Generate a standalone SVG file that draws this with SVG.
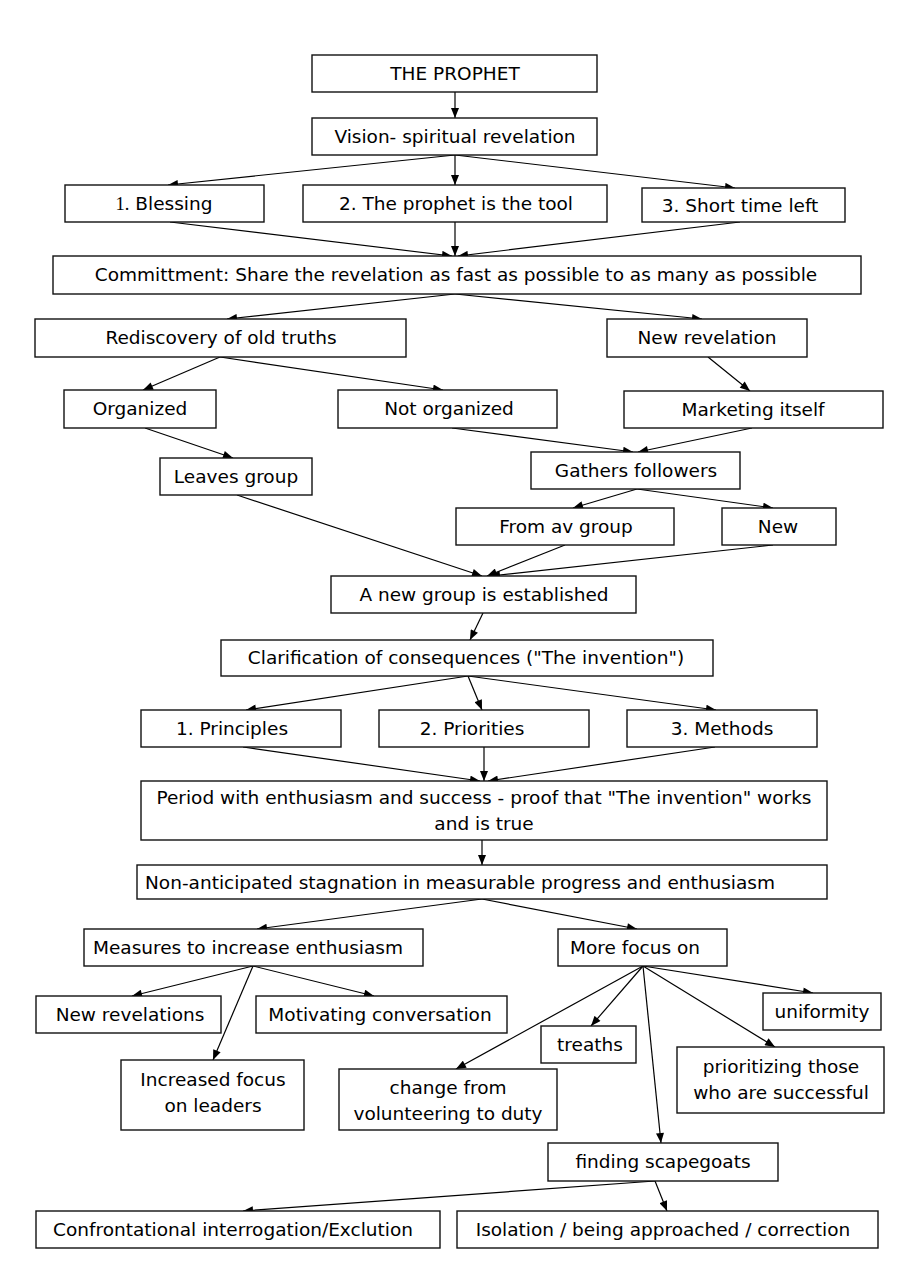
<svg xmlns="http://www.w3.org/2000/svg" width="915" height="1280" viewBox="0 0 915 1280">
<style>
rect{fill:#fff;stroke:#111;stroke-width:1.4}
text{font-family:"DejaVu Sans",Verdana,sans-serif;font-size:18.5px;fill:#000;text-anchor:middle}
.s{font-family:"Liberation Serif","Times New Roman",serif}
#connectors line{stroke:#000;stroke-width:1.2;marker-end:url(#ah)}
</style>
<defs>
<marker id="ah" viewBox="0 0 10 8" refX="10" refY="4" markerWidth="11" markerHeight="8" orient="auto" markerUnits="userSpaceOnUse"><path d="M0,0 L10,4 L0,8 z" fill="#000"/></marker>
</defs>
<rect x="0" y="0" width="915" height="1280" style="fill:#fff;stroke:none"/>
<g id="connectors">
<line x1="455" y1="92" x2="455" y2="118"/>
<line x1="455" y1="155" x2="168" y2="185"/>
<line x1="455" y1="155" x2="455" y2="185"/>
<line x1="455" y1="155" x2="735" y2="188"/>
<line x1="170" y1="222" x2="452" y2="256"/>
<line x1="455" y1="222" x2="455" y2="256"/>
<line x1="740" y1="222" x2="458" y2="256"/>
<line x1="455" y1="294" x2="227" y2="319"/>
<line x1="455" y1="294" x2="702" y2="319"/>
<line x1="220" y1="357" x2="143" y2="390"/>
<line x1="220" y1="357" x2="443" y2="390"/>
<line x1="708" y1="357" x2="750" y2="391"/>
<line x1="145" y1="428" x2="233" y2="458"/>
<line x1="452" y1="428" x2="633" y2="452"/>
<line x1="752" y1="428" x2="638" y2="452"/>
<line x1="637" y1="489" x2="573" y2="508"/>
<line x1="637" y1="489" x2="773" y2="508"/>
<line x1="237" y1="495" x2="482" y2="576"/>
<line x1="565" y1="545" x2="487" y2="576"/>
<line x1="773" y1="545" x2="490" y2="576"/>
<line x1="483" y1="613" x2="470" y2="640"/>
<line x1="468" y1="676" x2="246" y2="710"/>
<line x1="468" y1="676" x2="482" y2="710"/>
<line x1="468" y1="676" x2="716" y2="710"/>
<line x1="243" y1="747" x2="480" y2="781"/>
<line x1="484" y1="747" x2="484" y2="781"/>
<line x1="715" y1="747" x2="488" y2="781"/>
<line x1="482" y1="840" x2="482" y2="865"/>
<line x1="482" y1="899" x2="257" y2="929"/>
<line x1="482" y1="899" x2="637" y2="929"/>
<line x1="253" y1="966" x2="132" y2="996"/>
<line x1="253" y1="966" x2="374" y2="996"/>
<line x1="253" y1="966" x2="213" y2="1060"/>
<line x1="643" y1="966" x2="456" y2="1069"/>
<line x1="643" y1="966" x2="591" y2="1026"/>
<line x1="643" y1="966" x2="813" y2="993"/>
<line x1="643" y1="966" x2="775" y2="1047"/>
<line x1="643" y1="966" x2="661" y2="1143"/>
<line x1="655" y1="1181" x2="243" y2="1211"/>
<line x1="655" y1="1181" x2="667" y2="1211"/>
</g>
<g id="n-prophet"><rect x="312" y="55" width="285" height="37"/><text x="455" y="80">THE PROPHET</text></g>
<g id="n-vision"><rect x="312" y="118" width="285" height="37"/><text x="455" y="143">Vision- spiritual revelation</text></g>
<g id="n-blessing"><rect x="65" y="185" width="199" height="37"/><text x="164" y="210"><tspan class="s">1.</tspan> Blessing</text></g>
<g id="n-tool"><rect x="303" y="185" width="304" height="37"/><text x="456" y="210">2. The prophet is the tool</text></g>
<g id="n-short"><rect x="642" y="188" width="203" height="34"/><text x="740" y="212">3. Short time left</text></g>
<g id="n-commit"><rect x="53" y="256" width="808" height="38"/><text x="456" y="281">Committment: Share the revelation as fast as possible to as many as possible</text></g>
<g id="n-rediscovery"><rect x="35" y="319" width="371" height="38"/><text x="221" y="344">Rediscovery of old truths</text></g>
<g id="n-newrev"><rect x="607" y="319" width="200" height="38"/><text x="707" y="344">New revelation</text></g>
<g id="n-organized"><rect x="64" y="390" width="152" height="38"/><text x="140" y="415">Organized</text></g>
<g id="n-notorg"><rect x="338" y="390" width="219" height="38"/><text x="449" y="415">Not organized</text></g>
<g id="n-marketing"><rect x="624" y="391" width="259" height="37"/><text x="753" y="416">Marketing itself</text></g>
<g id="n-leaves"><rect x="160" y="458" width="152" height="37"/><text x="236" y="483">Leaves group</text></g>
<g id="n-gathers"><rect x="531" y="452" width="209" height="37"/><text x="636" y="477">Gathers followers</text></g>
<g id="n-fromav"><rect x="456" y="508" width="218" height="37"/><text x="566" y="533">From av group</text></g>
<g id="n-new"><rect x="722" y="508" width="114" height="37"/><text x="778" y="533">New</text></g>
<g id="n-newgroup"><rect x="331" y="576" width="305" height="37"/><text x="484" y="601">A new group is established</text></g>
<g id="n-clarif"><rect x="221" y="640" width="492" height="36"/><text x="466" y="664">Clarification of consequences ("The invention")</text></g>
<g id="n-principles"><rect x="141" y="710" width="200" height="37"/><text x="232" y="735">1. Principles</text></g>
<g id="n-priorities"><rect x="379" y="710" width="210" height="37"/><text x="472" y="735">2. Priorities</text></g>
<g id="n-methods"><rect x="627" y="710" width="190" height="37"/><text x="722" y="735">3. Methods</text></g>
<g id="n-period"><rect x="141" y="781" width="686" height="59"/><text x="484" y="804">Period with enthusiasm and success - proof that "The invention" works</text><text x="484" y="830">and is true</text></g>
<g id="n-stagnation"><rect x="137" y="865" width="690" height="34"/><text x="460" y="889">Non-anticipated stagnation in measurable progress and enthusiasm</text></g>
<g id="n-measures"><rect x="84" y="929" width="339" height="37"/><text x="248" y="954">Measures to increase enthusiasm</text></g>
<g id="n-morefocus"><rect x="558" y="929" width="169" height="37"/><text x="635" y="954">More focus on</text></g>
<g id="n-newrevs"><rect x="36" y="996" width="185" height="37"/><text x="130" y="1021">New revelations</text></g>
<g id="n-motivating"><rect x="256" y="996" width="251" height="37"/><text x="380" y="1021">Motivating conversation</text></g>
<g id="n-leaders"><rect x="121" y="1060" width="183" height="70"/><text x="213" y="1086">Increased focus</text><text x="213" y="1112">on leaders</text></g>
<g id="n-treaths"><rect x="541" y="1026" width="95" height="37"/><text x="590" y="1051">treaths</text></g>
<g id="n-uniformity"><rect x="763" y="993" width="118" height="37"/><text x="822" y="1018">uniformity</text></g>
<g id="n-prioritizing"><rect x="677" y="1047" width="207" height="66"/><text x="781" y="1073">prioritizing those</text><text x="781" y="1099">who are successful</text></g>
<g id="n-change"><rect x="339" y="1069" width="218" height="61"/><text x="448" y="1094">change from</text><text x="448" y="1120">volunteering to duty</text></g>
<g id="n-scapegoats"><rect x="548" y="1143" width="230" height="38"/><text x="663" y="1168">finding scapegoats</text></g>
<g id="n-confront"><rect x="36" y="1211" width="404" height="37"/><text x="233" y="1236">Confrontational interrogation/Exclution</text></g>
<g id="n-isolation"><rect x="457" y="1211" width="421" height="37"/><text x="663" y="1236">Isolation / being approached / correction</text></g>
</svg>
